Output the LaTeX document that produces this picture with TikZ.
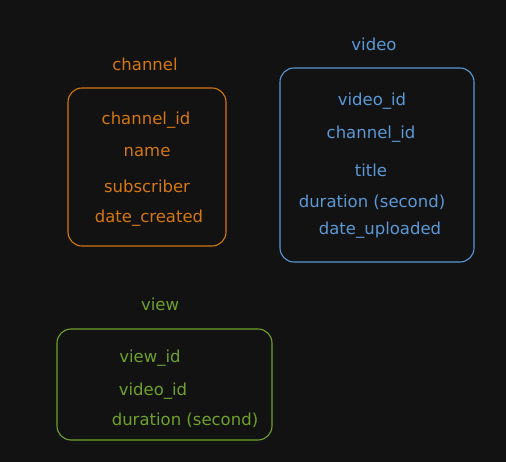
\documentclass[tikz,border=0pt]{standalone}
\usepackage{fontspec}
\setmainfont{DejaVu Sans}
\definecolor{bg}{HTML}{121212}
\definecolor{orng}{HTML}{D4770E}
\definecolor{blu}{HTML}{5A98D6}
\definecolor{grn}{HTML}{6FA02A}
\begin{document}
\begin{tikzpicture}[x=1pt,y=-1pt,
  tbl/.style={draw, line width=1.1pt, rounded corners=14pt},
  txt/.style={inner sep=0pt, font=\fontsize{16.5}{19}\selectfont},
]
\fill[bg] (0,0) rectangle (506,462);
\useasboundingbox (0,0) rectangle (506,462);
% channel
\draw[tbl, orng] (68,88) rectangle (226,246);
\node[txt, text=orng] (chT) at (145,64) {channel};
\node[txt, text=orng] (ch1) at (146,120) {channel\_id};
\node[txt, text=orng] (ch2) at (147,152) {name};
\node[txt, text=orng] (ch3) at (147,186) {subscriber};
\node[txt, text=orng] (ch4) at (149,218) {date\_created};
% video
\draw[tbl, blu] (280,68) rectangle (474,262);
\node[txt, text=blu] (viT) at (374,44) {video};
\node[txt, text=blu] (vi1) at (372,101) {video\_id};
\node[txt, text=blu] (vi2) at (371,134) {channel\_id};
\node[txt, text=blu] (vi3) at (371,170) {title};
\node[txt, text=blu] (vi4) at (372,202) {duration (second)};
\node[txt, text=blu] (vi5) at (380,230) {date\_uploaded};
% view
\draw[tbl, grn] (57,329) rectangle (272,440);
\node[txt, text=grn] (vwT) at (160,304) {view};
\node[txt, text=grn] (vw1) at (150,358) {view\_id};
\node[txt, text=grn] (vw2) at (153,391) {video\_id};
\node[txt, text=grn] (vw3) at (185,420) {duration (second)};
\end{tikzpicture}
\end{document}
